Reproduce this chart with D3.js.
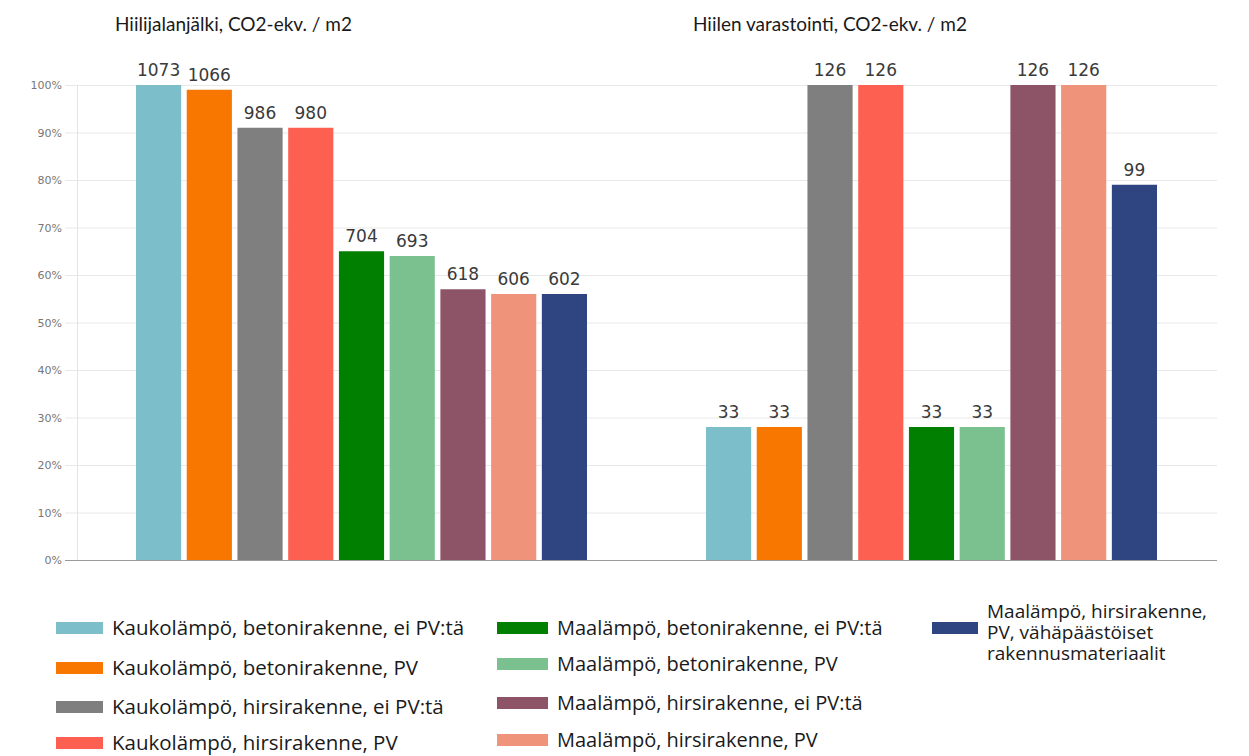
<!DOCTYPE html>
<html>
<head>
<meta charset="utf-8">
<script src="https://cdn.jsdelivr.net/npm/d3@7"></script>
<style>
  body { margin: 0; background: #fff; }
  svg text { font-family: Lato, "Open Sans", sans-serif; }
</style>
</head>
<body>
<div id="chart"></div>
<script>
// chart data
let groupTitles = ["Hiilijalanjälki, CO2-ekv. / m2", "Hiilen varastointi, CO2-ekv. / m2"]
let series = [
    "Kaukolämpö, betonirakenne, ei PV:tä",
    "Kaukolämpö, betonirakenne, PV",
    "Kaukolämpö, hirsirakenne, ei PV:tä",
    "Kaukolämpö, hirsirakenne, PV",
    "Maalämpö, betonirakenne, ei PV:tä",
    "Maalämpö, betonirakenne, PV",
    "Maalämpö, hirsirakenne, ei PV:tä",
    "Maalämpö, hirsirakenne, PV",
    "Maalämpö, hirsirakenne, PV, vähäpäästöiset rakennusmateriaalit"
]
let colors = ["#7cbfca", "#f77700", "#7f7f7f", "#fd6051", "#007f00", "#7bc18f", "#8d5468", "#f0937b", "#2f4581"]
// labels shown above the bars
let footprintValues = [1073, 1066, 986, 980, 704, 693, 618, 606, 602]
let storageValues = [33, 33, 126, 126, 33, 33, 126, 126, 99]
// bar heights in percent
let footprintShare = [100, 99, 91, 91, 65, 64, 57, 56, 56]
let storageShare = [28, 28, 100, 100, 28, 28, 100, 100, 79]
let yTicks = [0, 10, 20, 30, 40, 50, 60, 70, 80, 90, 100]

let svgWidth = 1249
let svgHeight = 756

let svg = d3.select('#chart')
    .append('svg')
    .attr('width', svgWidth)
    .attr('height', svgHeight)

let plot = { left: 77, right: 1217, top: 85, bottom: 560 }

// scales
let x0 = d3.scaleBand()
    .domain([0, 1])
    .range([plot.left, plot.right])
let x1 = d3.scaleBand()
    .domain(series)
    .range([59, x0.bandwidth() - 60])
    .paddingInner(0.11)
let y = d3.scaleLinear()
    .domain([0, 100])
    .range([plot.bottom, plot.top])

// gridlines + y axis
let yAxis = d3.axisLeft(y)
    .tickValues(yTicks)
    .tickFormat(d => d + '%')
    .tickSize(-(plot.right - plot.left + 12))
    .tickPadding(3)

let gy = svg.append('g')
    .attr('transform', `translate(${plot.left - 12},0)`)
    .call(yAxis)
gy.select('.domain').remove()
gy.selectAll('.tick line')
    .attr('stroke', d => d == 0 ? '#9a9a9a' : '#e8e8e8')
    .attr('stroke-width', 1)
gy.selectAll('.tick text')
    .attr('fill', '#777')
    .style('font-family', '"DejaVu Sans", sans-serif')
    .style('font-size', '11px')

// faint vertical axis line
svg.append('line')
    .attr('x1', plot.left + 0.5)
    .attr('x2', plot.left + 0.5)
    .attr('y1', plot.top)
    .attr('y2', plot.bottom)
    .attr('stroke', '#e4e4e4')

let groups = [
    { title: groupTitles[0], values: footprintValues, share: footprintShare },
    { title: groupTitles[1], values: storageValues, share: storageShare }
]

groups.forEach(function(g, gi) {
    let gx = x0(gi)
    let rows = series.map((s, i) => ({ name: s, value: g.values[i], share: g.share[i], color: colors[i] }))

    svg.append('g')
        .selectAll('rect')
        .data(rows)
        .join('rect')
        .attr('x', d => gx + x1(d.name))
        .attr('y', d => y(d.share))
        .attr('width', x1.bandwidth())
        .attr('height', d => y(0) - y(d.share))
        .attr('fill', d => d.color)

    svg.append('g')
        .selectAll('text')
        .data(rows)
        .join('text')
        .attr('x', d => gx + x1(d.name) + x1.bandwidth() / 2)
        .attr('y', d => y(d.share) - 9)
        .attr('text-anchor', 'middle')
        .attr('fill', '#3a3a3a')
        .style('font-family', '"DejaVu Sans", sans-serif')
        .style('font-size', '17px')
        .text(d => d.value)
})

// titles
svg.append('text')
    .attr('x', 115)
    .attr('y', 31)
    .attr('fill', '#1a1a1a')
    .style('font-size', '19px')
    .text(groupTitles[0])
svg.append('text')
    .attr('x', 693)
    .attr('y', 31)
    .attr('fill', '#1a1a1a')
    .style('font-size', '19px')
    .text(groupTitles[1])

// legend, 3 columns
let legendCols = [
    { x: 56, sw: 47, rows: [0, 1, 2, 3], ys: [628, 668, 707, 743], size: 20.5 },
    { x: 497, sw: 51, rows: [4, 5, 6, 7], ys: [628, 664, 703, 740], size: 20 },
    { x: 932, sw: 46, rows: [8], ys: [628], size: 19 }
]
let wrapLines = { 8: ["Maalämpö, hirsirakenne,", "PV, vähäpäästöiset", "rakennusmateriaalit"] }

legendCols.forEach(function(col) {
    col.rows.forEach(function(si, r) {
        let cy = col.ys[r]
        svg.append('rect')
            .attr('x', col.x)
            .attr('y', cy - 6)
            .attr('width', col.sw)
            .attr('height', 12)
            .attr('fill', colors[si])
        let lines = wrapLines[si] || [series[si]]
        let t = svg.append('text')
            .attr('y', lines.length > 1 ? 618 : cy + 7)
            .attr('fill', '#1a1a1a')
            .style('font-family', '"Open Sans", sans-serif')
            .style('font-size', col.size + 'px')
        lines.forEach(function(l, li) {
            t.append('tspan')
                .attr('x', col.x + col.sw + 9)
                .attr('dy', li == 0 ? 0 : 21)
                .text(l)
        })
    })
})
</script>
</body>
</html>
